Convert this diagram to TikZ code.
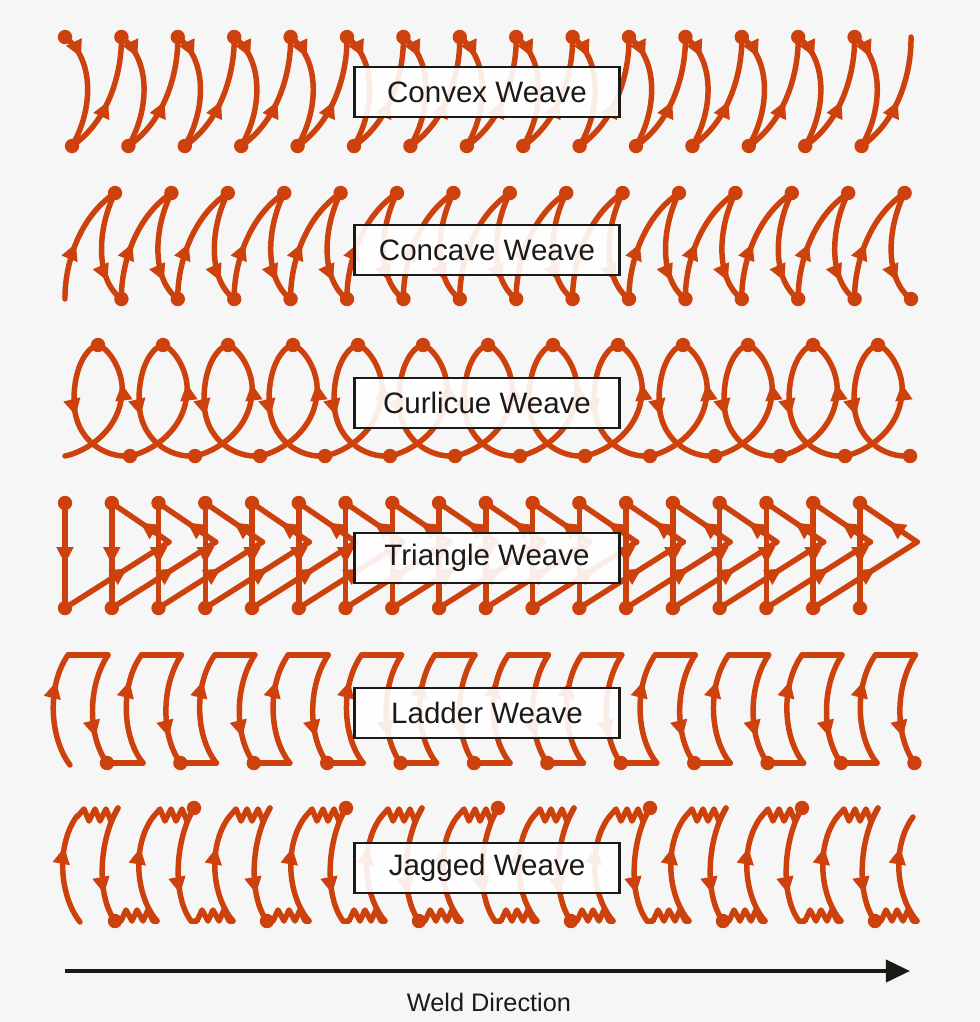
\documentclass[tikz,border=0pt]{standalone}
\usepackage{fontspec}
\setmainfont{Liberation Sans}
\usetikzlibrary{arrows.meta, decorations.markings}
\definecolor{weld}{RGB}{205, 66, 12}
\definecolor{ink}{RGB}{28, 26, 23}
\definecolor{paper}{RGB}{246, 246, 246}

\tikzset{
  weave/.style={draw=weld, line width=3.9pt, line cap=round, line join=round},
  tipat/.style={postaction={decorate, decoration={markings,
      mark=at position #1 with {\arrow[weld]{Triangle[length=12pt, width=11.5pt]}}}}},
  weldpt/.style={fill=weld},
  namebox/.style={draw=ink, line width=2.1pt, fill=white, fill opacity=0.9, text opacity=1,
      text=ink, minimum width=6.62cm, minimum height=1.25cm, inner sep=0pt,
      font=\fontsize{21}{25}\selectfont}
}

\begin{document}
\begin{tikzpicture}[x=0.025cm, y=-0.025cm]
        % Fundo
        \fill[paper] (0,0) rectangle (980,1022);
        \useasboundingbox (0,0) rectangle (980,1022);

        % Convex
        \foreach \k in {0,...,14} {
          \pgfmathsetmacro\xa{65+56.4*\k}
          \draw[weave, tipat=0.22] (\xa,37) .. controls (\xa+30,60) and (\xa+28,110) .. (\xa+7,146);
          \draw[weave, tipat=0.47] (\xa+7,146) .. controls (\xa+45,120) and (\xa+57,70) .. (\xa+56.4,37);
          \fill[weldpt] (\xa,37) circle[radius=0.18cm];
          \fill[weldpt] (\xa+7,146) circle[radius=0.18cm];
        }

        % Concave
        \foreach \k in {0,...,14} {
          \pgfmathsetmacro\xb{65+56.4*\k}
          \draw[weave, tipat=0.47] (\xb,299) .. controls (\xb-0.5,269) and (\xb+11.5,219) .. (\xb+50,193);
          \draw[weave, tipat=0.8] (\xb+50,193) .. controls (\xb+32,229) and (\xb+30,279) .. (\xb+56.4,299);
          \fill[weldpt] (\xb+50,193) circle[radius=0.18cm];
          \fill[weldpt] (\xb+56.4,299) circle[radius=0.18cm];
        }

        % Curlicue
        \foreach \k in {0,...,12} {
          \pgfmathsetmacro\xc{65+65*\k}
          \draw[weave, tipat=0.68] (\xc,456) .. controls (\xc+20,452) and (\xc+59,430) .. (\xc+57,385)
                .. controls (\xc+55,364) and (\xc+41,347) .. (\xc+33,345);
          \draw[weave, tipat=0.52] (\xc+33,345) .. controls (\xc+23,347) and (\xc+9,365) .. (\xc+9,400)
                .. controls (\xc+9,440) and (\xc+40,458) .. (\xc+65,456);
          \fill[weldpt] (\xc+33,345) circle[radius=0.18cm];
          \fill[weldpt] (\xc+65,456) circle[radius=0.18cm];
        }

        % Triangle
        \foreach \k in {0,...,16} {
          \pgfmathsetmacro\xt{65+46.76*\k}
          \draw[weave, tipat=0.6] (\xt,608) -- (\xt+104,542);
          \draw[weave, tipat=0.5] (\xt+104,542) -- (\xt+46.76,503);
        }
        \foreach \k in {0,...,17} {
          \pgfmathsetmacro\xt{65+46.76*\k}
          \draw[weave, tipat=0.58] (\xt,503) -- (\xt,608);
          \fill[weldpt] (\xt,503) circle[radius=0.18cm];
          \fill[weldpt] (\xt,608) circle[radius=0.18cm];
        }

        % Ladder
        \draw[weave, tipat=0.75] (70,765) .. controls (49,737) and (47,685) .. (68,655);
        \foreach \k in {0,...,11} {
          \pgfmathsetmacro\xl{68+73.4*\k}
          \draw[weave] (\xl,655) -- (\xl+40,655);
          \draw[weave, tipat=0.75] (\xl+40,655) .. controls (\xl+20,685) and (\xl+19,735) .. (\xl+39,763);
          \fill[weldpt] (\xl+39,763) circle[radius=0.18cm];
          \ifnum\k<11
            \draw[weave] (\xl+39,763) -- (\xl+75,763);
            \draw[weave, tipat=0.75] (\xl+75,763) .. controls (\xl+54,737) and (\xl+52,685) .. (\xl+73.4,655);
          \fi
        }

        % Jagged
        \draw[weave, tipat=0.7] (80,922) .. controls (59,895) and (56,845) .. (77,816);
        \foreach \k in {0,...,10} {
          \pgfmathsetmacro\xj{77+76*\k}
          \draw[weave] (\xj,817) -- (\xj+7,809) -- (\xj+12,821) -- (\xj+18,809) -- (\xj+23,821)
                -- (\xj+29,809) -- (\xj+34,821) -- (\xj+41,808);
          \draw[weave, tipat=0.75] (\xj+41,808) .. controls (\xj+22,840) and (\xj+19,895) .. (\xj+38,921);
          \draw[weave] (\xj+38,921) -- (\xj+44,921) -- (\xj+49,910) -- (\xj+55,921) -- (\xj+60,910)
                -- (\xj+66,921) -- (\xj+71,910) -- (\xj+76,921) -- (\xj+80,921);
          \draw[weave, tipat=0.7] (\xj+80,921) .. controls (\xj+58,895) and (\xj+55,845) .. (\xj+76,817);
          \ifodd\k
            \fill[weldpt] (\xj+41,808) circle[radius=0.18cm];
          \else
            \fill[weldpt] (\xj+38,921) circle[radius=0.18cm];
          \fi
        }

        % Rótulos
        \node[namebox] (convex) at (487,92) {Convex Weave};
        \node[namebox] (concave) at (487,250) {Concave Weave};
        \node[namebox] (curlicue) at (487,403) {Curlicue Weave};
        \node[namebox] (triangle) at (487,558) {Triangle Weave};
        \node[namebox] (ladder) at (487,713) {Ladder Weave};
        \node[namebox] (jagged) at (487,868) {Jagged Weave};

        % Direção
        \coordinate (dirstart) at (65,971);
        \coordinate (dirend) at (910,971);
        \draw[ink, line width=2.8pt, -{Triangle[length=0.6cm, width=0.55cm]}] (dirstart) -- (dirend);
        \node[text=ink, font=\fontsize{18}{22}\selectfont] (dirlabel) at (489,1002) {Weld Direction};
    \end{tikzpicture}
\end{document}
